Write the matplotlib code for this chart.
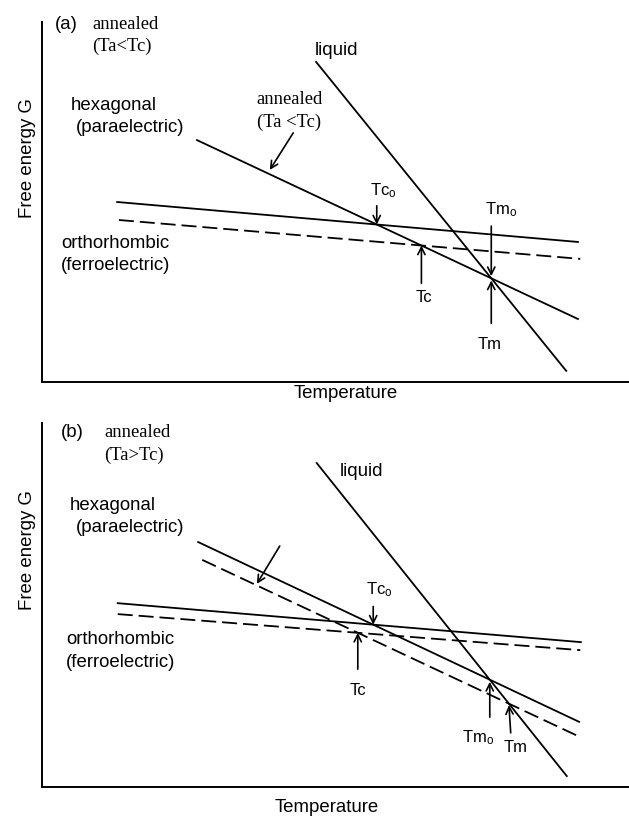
import numpy as np
import matplotlib
matplotlib.use('Agg')
import matplotlib.pyplot as plt

plt.rcParams['font.family'] = ['Liberation Sans', 'DejaVu Sans']

# free energy curves, end points as (temperature, G) in arbitrary units
# (a) annealed below Tc
hex_a_T = [26.4, 91.3]
hex_a_G = [67.2, 17.5]
orth_a_T = [12.8, 91.3]
orth_a_G = [50.0, 38.9]
orth_ann_a_T = [13.1, 91.7]
orth_ann_a_G = [45.0, 34.2]
liq_a_T = [46.7, 89.3]
liq_a_G = [88.9, 3.1]

# (b) annealed above Tc
hex_b_T = [26.6, 91.5]
hex_b_G = [67.3, 17.9]
hex_ann_b_T = [27.3, 91.7]
hex_ann_b_G = [62.4, 13.7]
orth_b_T = [12.9, 91.8]
orth_b_G = [50.5, 39.8]
orth_ann_b_T = [12.9, 91.7]
orth_ann_b_G = [47.5, 37.6]
liq_b_T = [46.8, 89.4]
liq_b_G = [89.0, 3.0]

LW = 1.3
DASH = (8.3, 3.3)
SANS = 13.4
SERIF = ['Liberation Serif', 'DejaVu Serif']


def cross(T1, G1, T2, G2):
    # intersection of two straight lines given by their end points
    m1 = (G1[1] - G1[0]) / (T1[1] - T1[0])
    m2 = (G2[1] - G2[0]) / (T2[1] - T2[0])
    b1 = G1[0] - m1 * T1[0]
    b2 = G2[0] - m2 * T2[0]
    t = (b2 - b1) / (m1 - m2)
    return t, m1 * t + b1


def arrow(ax, tip, tail):
    ax.annotate('', xy=tip, xytext=tail,
                arrowprops=dict(arrowstyle='->', lw=1.2, color='black',
                                shrinkA=0, shrinkB=0, mutation_scale=13))


def setup(ax):
    ax.set_xlim(0, 100)
    ax.set_ylim(0, 100)
    for s in ['top', 'right']:
        ax.spines[s].set_visible(False)
    for s in ['left', 'bottom']:
        ax.spines[s].set_linewidth(1.4)
    ax.set_xticks([])
    ax.set_yticks([])
    ax.patch.set_alpha(0)


fig = plt.figure(figsize=(6.29, 8.19), dpi=100)
W, H = 629.0, 819.0
ax1 = fig.add_axes([42 / W, 1 - 382 / H, (W - 42) / W, 360 / H])
ax2 = fig.add_axes([42 / W, 1 - 787 / H, (W - 42) / W, 364 / H])

# ---- panel (a)
ax = ax1
setup(ax)
ax.plot(hex_a_T, hex_a_G, 'k-', lw=LW)
ax.plot(orth_a_T, orth_a_G, 'k-', lw=LW)
ax.plot(orth_ann_a_T, orth_ann_a_G, 'k--', lw=LW, dashes=DASH)
ax.plot(liq_a_T, liq_a_G, 'k-', lw=LW)

tco = cross(hex_a_T, hex_a_G, orth_a_T, orth_a_G)
tc = cross(hex_a_T, hex_a_G, orth_ann_a_T, orth_ann_a_G)
tm = cross(hex_a_T, hex_a_G, liq_a_T, liq_a_G)
arrow(ax, tco, (tco[0], tco[1] + 5.2))
arrow(ax, tc, (tc[0], tc[1] - 10.5))
arrow(ax, (tm[0], tm[1] + 0.6), (tm[0], tm[1] + 14.5))
arrow(ax, (tm[0], tm[1] - 0.6), (tm[0], tm[1] - 12.5))
ax.text(tco[0] - 1.1, tco[1] + 9.5, r'$\mathregular{Tc_o}$', fontsize=12, va='center', ha='left')
ax.text(tm[0] - 1.1, tm[1] + 19.0, r'$\mathregular{Tm_o}$', fontsize=12, va='center', ha='left')
ax.text(tc[0] + 0.5, tc[1] - 14.5, 'Tc', fontsize=12, va='center', ha='center')
ax.text(tm[0] - 0.2, tm[1] - 18.5, 'Tm', fontsize=12, va='center', ha='center')

arrow(ax, (38.8, 58.9), (42.8, 69.2))
ax.text(36.6, 78.4, 'annealed', family=SERIF, fontsize=SANS, va='center')
ax.text(36.6, 72.2, '(Ta <Tc)', family=SERIF, fontsize=SANS, va='center')

ax.text(2.2, 99.2, '(a)', fontsize=SANS, va='center')
ax.text(8.5, 99.2, 'annealed', family=SERIF, fontsize=SANS, va='center')
ax.text(8.5, 93.1, '(Ta<Tc)', family=SERIF, fontsize=SANS, va='center')
ax.text(4.9, 76.9, 'hexagonal', fontsize=SANS, va='center')
ax.text(5.8, 70.8, '(paraelectric)', fontsize=SANS, va='center')
ax.text(3.2, 38.6, 'orthorhombic', fontsize=SANS, va='center')
ax.text(3.2, 32.5, '(ferroelectric)', fontsize=SANS, va='center')
ax.text(46.5, 92.2, 'liquid', fontsize=SANS, va='center')

# ---- panel (b)
ax = ax2
setup(ax)
ax.plot(hex_b_T, hex_b_G, 'k-', lw=LW)
ax.plot(hex_ann_b_T, hex_ann_b_G, 'k--', lw=LW, dashes=DASH)
ax.plot(orth_b_T, orth_b_G, 'k-', lw=LW)
ax.plot(orth_ann_b_T, orth_ann_b_G, 'k--', lw=LW, dashes=DASH)
ax.plot(liq_b_T, liq_b_G, 'k-', lw=LW)

tco = cross(hex_b_T, hex_b_G, orth_b_T, orth_b_G)
tc = cross(hex_ann_b_T, hex_ann_b_G, orth_ann_b_T, orth_ann_b_G)
tmo = cross(hex_b_T, hex_b_G, liq_b_T, liq_b_G)
tm = cross(hex_ann_b_T, hex_ann_b_G, liq_b_T, liq_b_G)
arrow(ax, tco, (tco[0], tco[1] + 5.0))
arrow(ax, tc, (tc[0], tc[1] - 10.0))
arrow(ax, (tmo[0], tmo[1] - 0.6), (tmo[0], tmo[1] - 10.3))
arrow(ax, (tm[0], tm[1] - 0.4), (tm[0] + 0.3, tm[1] - 8.0))
ax.text(tco[0] - 1.3, tco[1] + 9.6, r'$\mathregular{Tc_o}$', fontsize=12, va='center', ha='left')
ax.text(tc[0], tc[1] - 15.9, 'Tc', fontsize=12, va='center', ha='center')
ax.text(tmo[0] - 2.0, tmo[1] - 16.0, r'$\mathregular{Tm_o}$', fontsize=12, va='center', ha='center')
ax.text(tm[0] + 1.2, tm[1] - 12.0, 'Tm', fontsize=12, va='center', ha='center')

arrow(ax, (36.6, 55.8), (40.5, 66.2))

ax.text(3.2, 97.3, '(b)', fontsize=SANS, va='center')
ax.text(10.6, 97.3, 'annealed', family=SERIF, fontsize=SANS, va='center')
ax.text(10.6, 91.2, '(Ta>Tc)', family=SERIF, fontsize=SANS, va='center')
ax.text(4.8, 77.2, 'hexagonal', fontsize=SANS, va='center')
ax.text(5.8, 71.2, '(paraelectric)', fontsize=SANS, va='center')
ax.text(4.1, 40.4, 'orthorhombic', fontsize=SANS, va='center')
ax.text(4.1, 34.3, '(ferroelectric)', fontsize=SANS, va='center')
ax.text(50.8, 86.8, 'liquid', fontsize=SANS, va='center')

# axis titles
fig.text(27 / W, 1 - 158 / H, 'Free energy G', rotation=90, fontsize=SANS, ha='center', va='center')
fig.text(27 / W, 1 - 550 / H, 'Free energy G', rotation=90, fontsize=SANS, ha='center', va='center')
fig.text(346 / W, 1 - 393 / H, 'Temperature', fontsize=SANS, ha='center', va='center')
fig.text(327 / W, 1 - 808 / H, 'Temperature', fontsize=SANS, ha='center', va='center')

fig.savefig('out.png', dpi=100, facecolor='white')
